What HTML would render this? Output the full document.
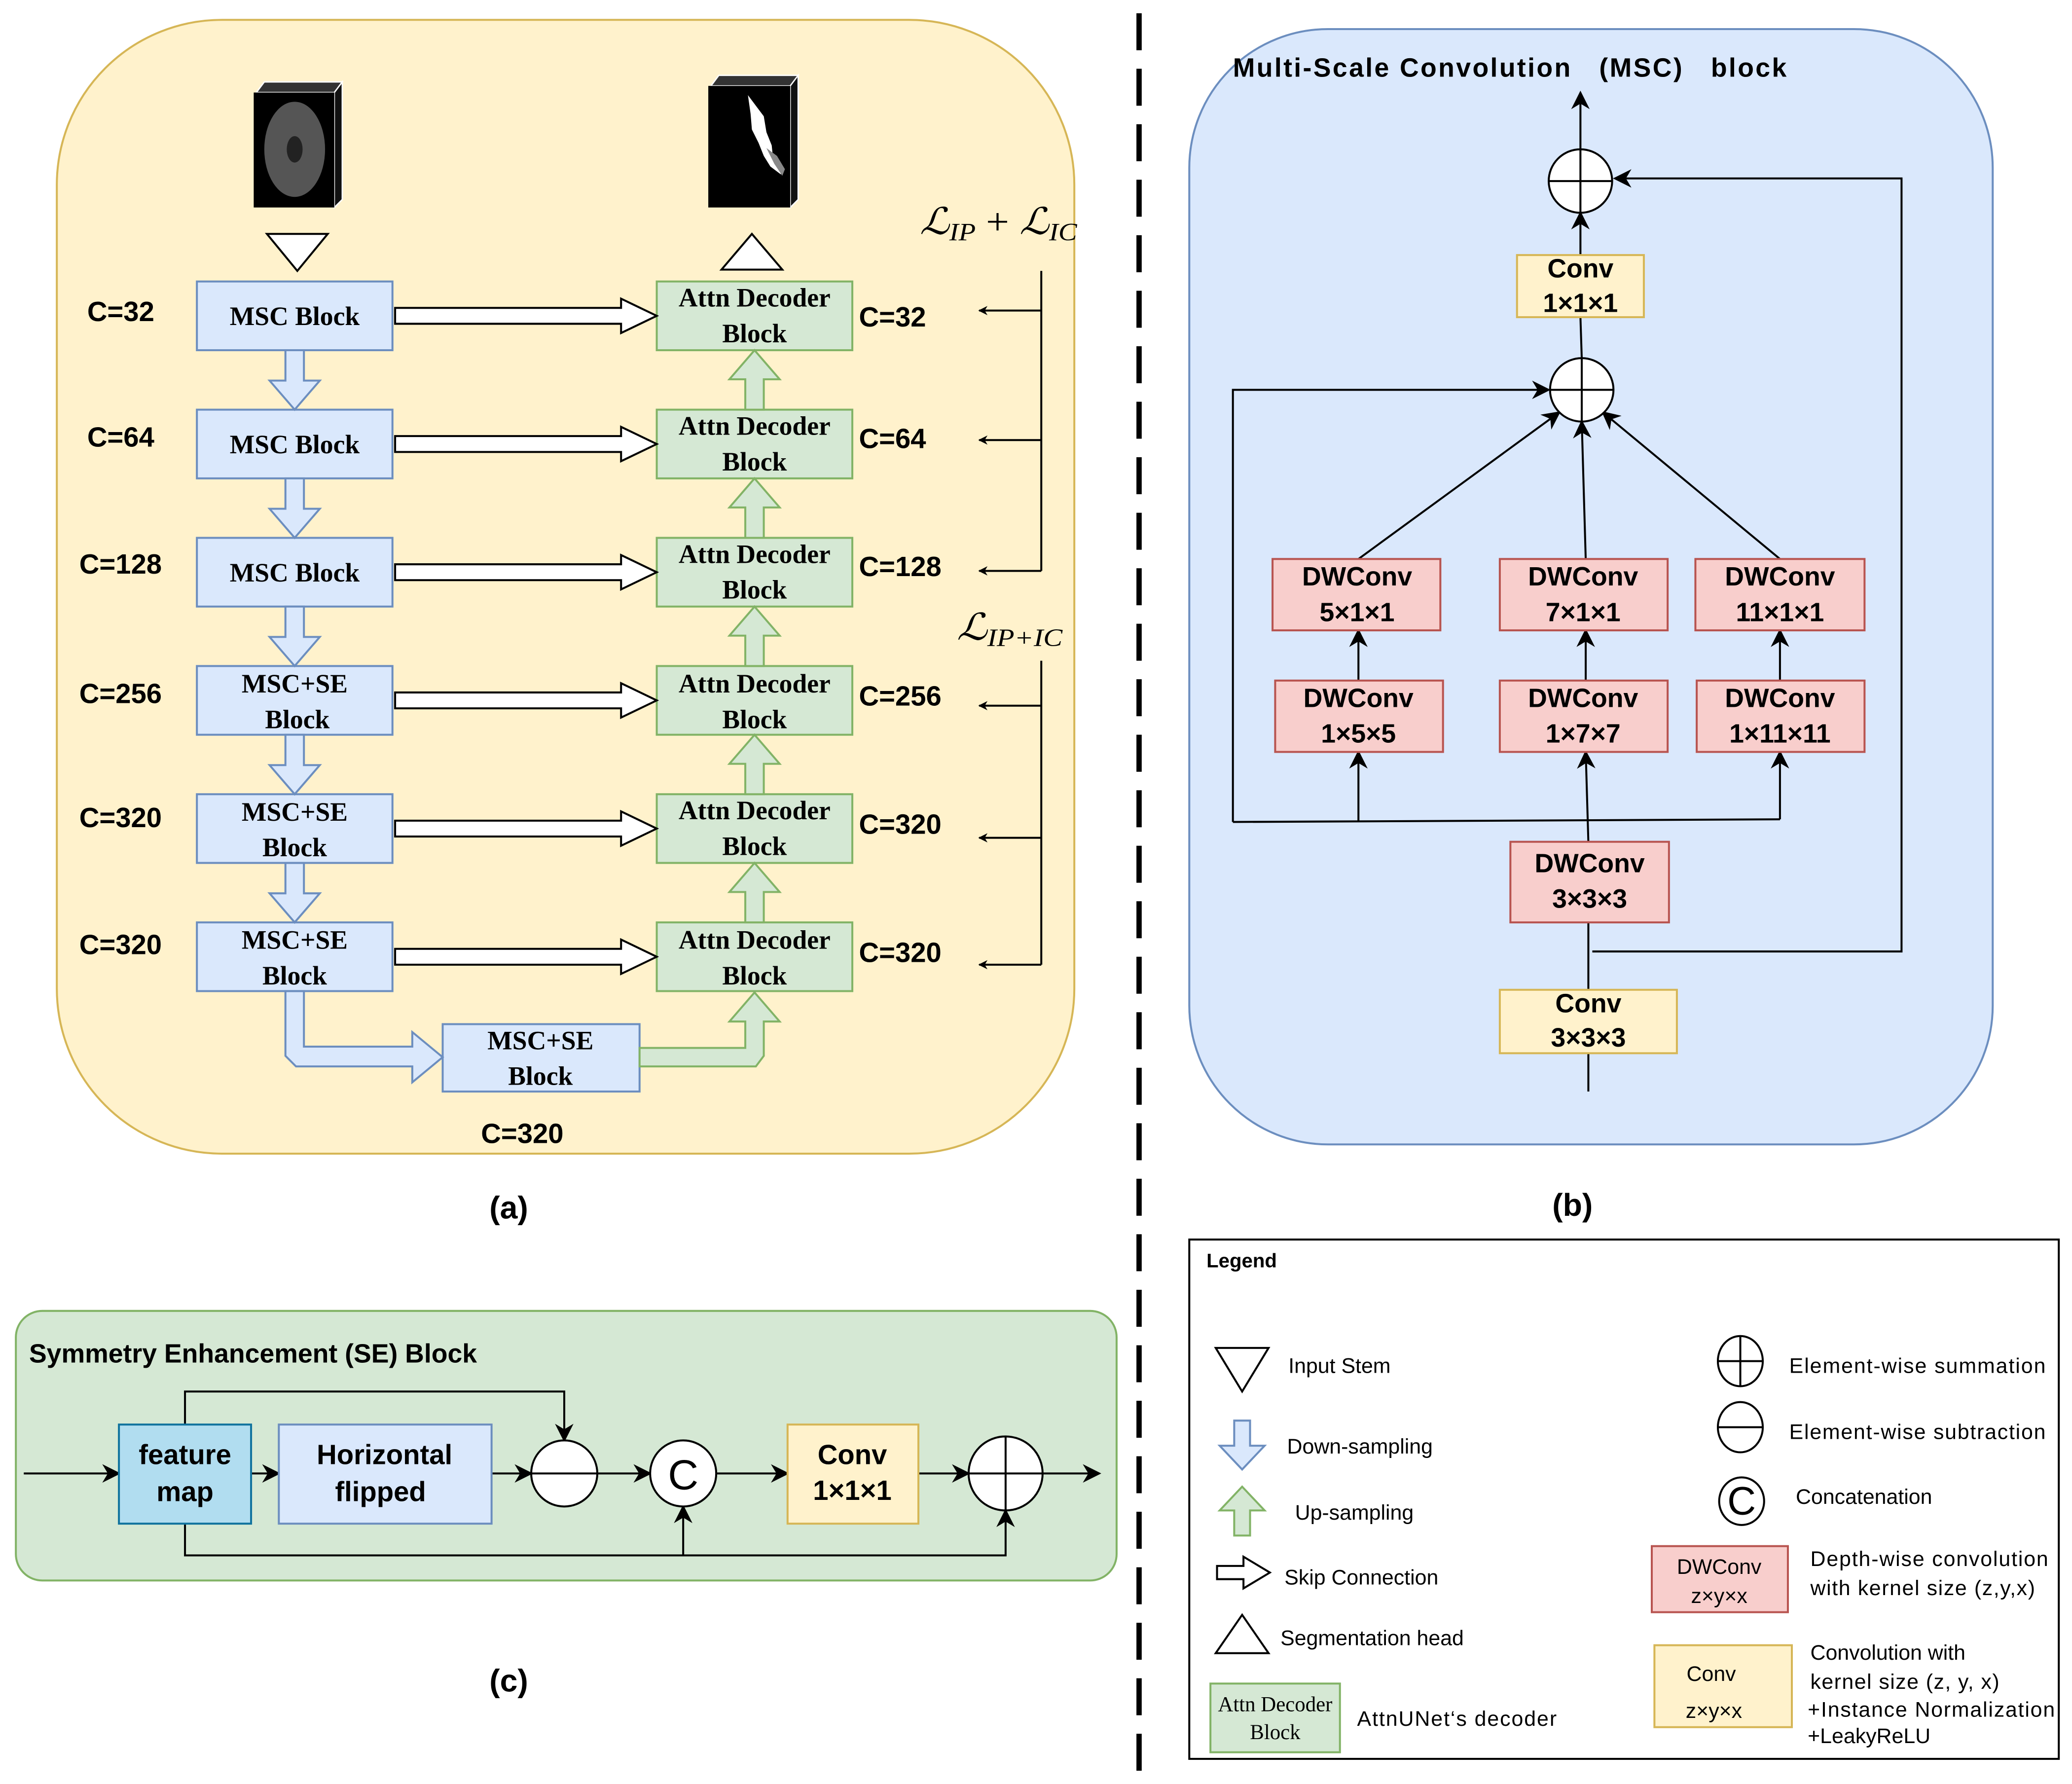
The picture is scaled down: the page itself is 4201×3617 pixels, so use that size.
<!DOCTYPE html>
<html><head><meta charset="utf-8"><style>html,body{margin:0;padding:0;background:#fff}svg{display:block}</style></head>
<body>
<svg width="4201" height="3617" viewBox="0 0 1568 1350" xmlns="http://www.w3.org/2000/svg" font-family="Liberation Sans, sans-serif">
<defs>
<marker id="ah" viewBox="0 0 10 10" refX="9" refY="5" markerWidth="7" markerHeight="7" orient="auto-start-reverse" markerUnits="userSpaceOnUse"><path d="M0,0 L10,5 L0,10 L3,5 z" fill="#000"/></marker>
<marker id="ab" viewBox="0 0 10 10" refX="9" refY="5" markerWidth="14" markerHeight="14" orient="auto" markerUnits="userSpaceOnUse"><path d="M0,0 L10,5 L0,10 L3,5 z" fill="#000"/></marker>
</defs>
<rect width="1568" height="1350" fill="#fff"/>

<!-- Panel (a) -->
<rect x="43" y="15" width="770" height="858" rx="125" fill="#fff2cc" stroke="#d6b656" stroke-width="1.5"/>
<polygon points="194,70 200,62 259,62 253,70" fill="#333" stroke="#fff" stroke-width="1"/>
<polygon points="253,70 259,62 259,151 253,157" fill="#111" stroke="#fff" stroke-width="1"/>
<rect x="192" y="70" width="61" height="87" fill="#000"/>
<ellipse cx="223" cy="113" rx="23" ry="36" fill="#555"/>
<ellipse cx="223" cy="113" rx="6" ry="10" fill="#222"/>
<polygon points="538,65 544,57 604,57 598,65" fill="#333" stroke="#fff" stroke-width="1"/>
<polygon points="598,65 604,57 604,151 598,157" fill="#111" stroke="#fff" stroke-width="1"/>
<rect x="536" y="65" width="62" height="92" fill="#000"/>
<path d="M566,72 L572,80 L578,88 L580,100 L584,110 L585,120 L590,128 L591,132 L583,126 L578,118 L574,108 L569,98 L568,86 Z" fill="#fff"/>
<path d="M580,112 L588,118 L594,128 L592,133 L586,124 Z" fill="#888"/>
<polygon points="202,177 248,177 225,205" fill="#fff" stroke="#000" stroke-width="1.5"/>
<polygon points="546,204 592,204 569,177" fill="#fff" stroke="#000" stroke-width="1.5"/>

<g font-family="Liberation Serif, serif" font-weight="bold" font-size="20" text-anchor="middle">
<g fill="#dae8fc" stroke="#6c8ebf" stroke-width="1.5">
<rect x="149" y="213" width="148" height="52"/><rect x="149" y="310" width="148" height="52"/>
<rect x="149" y="407" width="148" height="52"/><rect x="149" y="504" width="148" height="52"/>
<rect x="149" y="601" width="148" height="52"/><rect x="149" y="698" width="148" height="52"/>
<rect x="335" y="775" width="149" height="51"/>
</g>
<text x="223" y="246">MSC Block</text><text x="223" y="343">MSC Block</text><text x="223" y="440">MSC Block</text>
<text x="223" y="524">MSC+SE</text><text x="225" y="551">Block</text>
<text x="223" y="621">MSC+SE</text><text x="223" y="648">Block</text>
<text x="223" y="718">MSC+SE</text><text x="223" y="745">Block</text>
<text x="409" y="794">MSC+SE</text><text x="409" y="821">Block</text>
<g fill="#d5e8d4" stroke="#82b366" stroke-width="1.5">
<rect x="497" y="213" width="148" height="52"/><rect x="497" y="310" width="148" height="52"/>
<rect x="497" y="407" width="148" height="52"/><rect x="497" y="504" width="148" height="52"/>
<rect x="497" y="601" width="148" height="52"/><rect x="497" y="698" width="148" height="52"/>
</g>
<text x="571" y="232">Attn Decoder</text><text x="571" y="259">Block</text>
<text x="571" y="329">Attn Decoder</text><text x="571" y="356">Block</text>
<text x="571" y="426">Attn Decoder</text><text x="571" y="453">Block</text>
<text x="571" y="524">Attn Decoder</text><text x="571" y="551">Block</text>
<text x="571" y="620">Attn Decoder</text><text x="571" y="647">Block</text>
<text x="571" y="718">Attn Decoder</text><text x="571" y="745">Block</text>
</g>
<g fill="#fff" stroke="#000" stroke-width="1.5">
<polygon points="299,233 470,233 470,226 497,239 470,252 470,245 299,245"/>
<polygon points="299,330 470,330 470,323 497,336 470,349 470,342 299,342"/>
<polygon points="299,427 470,427 470,420 497,433 470,446 470,439 299,439"/>
<polygon points="299,524 470,524 470,517 497,530 470,543 470,536 299,536"/>
<polygon points="299,621 470,621 470,614 497,627 470,640 470,633 299,633"/>
<polygon points="299,718 470,718 470,711 497,724 470,737 470,730 299,730"/>
</g>
<g fill="#dae8fc" stroke="#6c8ebf" stroke-width="1.5">
<polygon points="216,265 230,265 230,288 242,288 223,310 204,288 216,288"/>
<polygon points="216,362 230,362 230,385 242,385 223,407 204,385 216,385"/>
<polygon points="216,459 230,459 230,482 242,482 223,504 204,482 216,482"/>
<polygon points="216,556 230,556 230,579 242,579 223,601 204,579 216,579"/>
<polygon points="216,653 230,653 230,676 242,676 223,698 204,676 216,676"/>
<polygon points="216,750 230,750 230,792 312,792 312,781 335,800 312,819 312,807 224,807 216,799"/>
</g>
<g fill="#d5e8d4" stroke="#82b366" stroke-width="1.5">
<polygon points="564,310 578,310 578,287 590,287 571,265 552,287 564,287"/>
<polygon points="564,407 578,407 578,384 590,384 571,362 552,384 564,384"/>
<polygon points="564,504 578,504 578,481 590,481 571,459 552,481 564,481"/>
<polygon points="564,601 578,601 578,578 590,578 571,556 552,578 564,578"/>
<polygon points="564,698 578,698 578,675 590,675 571,653 552,675 564,675"/>
<polygon points="484,793 564,793 564,773 552,773 571,751 590,773 578,773 578,799 572,807 484,807"/>
</g>
<g font-weight="bold" font-size="21">
<text x="66" y="243">C=32</text><text x="66" y="338">C=64</text><text x="60" y="434">C=128</text>
<text x="60" y="532">C=256</text><text x="60" y="626">C=320</text><text x="60" y="722">C=320</text>
<text x="650" y="247">C=32</text><text x="650" y="339">C=64</text><text x="650" y="436">C=128</text>
<text x="650" y="534">C=256</text><text x="650" y="631">C=320</text><text x="650" y="728">C=320</text>
<text x="364" y="865">C=320</text>
</g>
<g stroke="#000" stroke-width="1.5" fill="none">
<line x1="788" y1="205" x2="788" y2="432"/>
<line x1="788" y1="235" x2="741" y2="235" marker-end="url(#ah)"/>
<line x1="788" y1="333" x2="741" y2="333" marker-end="url(#ah)"/>
<line x1="788" y1="432" x2="741" y2="432" marker-end="url(#ah)"/>
<line x1="788" y1="500" x2="788" y2="730"/>
<line x1="788" y1="534" x2="741" y2="534" marker-end="url(#ah)"/>
<line x1="788" y1="634" x2="741" y2="634" marker-end="url(#ah)"/>
<line x1="788" y1="730" x2="741" y2="730" marker-end="url(#ah)"/>
</g>
<g font-family="Liberation Serif, serif" font-style="italic">
<text x="696" y="177" font-size="28" textLength="119" lengthAdjust="spacingAndGlyphs">ℒ<tspan font-size="19" dy="5">IP</tspan><tspan dy="-5" font-style="normal"> + </tspan>ℒ<tspan font-size="19" dy="5">IC</tspan></text>
<text x="724" y="484" font-size="28" textLength="80" lengthAdjust="spacingAndGlyphs">ℒ<tspan font-size="19" dy="5">IP+IC</tspan></text>
</g>
<text x="385" y="922" font-weight="bold" font-size="24" text-anchor="middle">(a)</text>

<line x1="862" y1="10" x2="862" y2="1342" stroke="#000" stroke-width="4" stroke-dasharray="28,14"/>

<!-- Panel (b) -->
<rect x="900" y="22" width="608" height="844" rx="105" fill="#dae8fc" stroke="#6c8ebf" stroke-width="1.5"/>
<text x="933" y="58" font-weight="bold" font-size="20" textLength="419" lengthAdjust="spacing" xml:space="preserve">Multi-Scale Convolution   (MSC)   block</text>
<g stroke="#000" stroke-width="1.5" fill="none">
<line x1="1202" y1="826" x2="1202" y2="698"/>
<polyline points="1205,720 1439,720 1439,135 1222,135" marker-end="url(#ab)"/>
<line x1="1202" y1="637" x2="1200" y2="569" marker-end="url(#ab)"/>
<polyline points="933,622 1347,620"/>
<polyline points="933,622 933,295 1172,295" marker-end="url(#ab)"/>
<line x1="1028" y1="622" x2="1028" y2="569" marker-end="url(#ab)"/>
<line x1="1347" y1="620" x2="1347" y2="569" marker-end="url(#ab)"/>
<line x1="1028" y1="515" x2="1028" y2="477" marker-end="url(#ab)"/>
<line x1="1200" y1="515" x2="1200" y2="477" marker-end="url(#ab)"/>
<line x1="1347" y1="515" x2="1347" y2="477" marker-end="url(#ab)"/>
<line x1="1028" y1="423" x2="1180" y2="312" marker-end="url(#ab)"/>
<line x1="1200" y1="423" x2="1197" y2="319" marker-end="url(#ab)"/>
<line x1="1347" y1="423" x2="1213" y2="312" marker-end="url(#ab)"/>
<line x1="1197" y1="271" x2="1196" y2="240"/>
<line x1="1196" y1="193" x2="1196" y2="161" marker-end="url(#ab)"/>
<line x1="1196" y1="113" x2="1196" y2="70" marker-end="url(#ab)"/>
</g>
<g stroke="#000" stroke-width="1.5" fill="#fff">
<ellipse cx="1196" cy="137" rx="24" ry="24"/>
<ellipse cx="1197" cy="295" rx="24" ry="24"/>
</g>
<g stroke="#000" stroke-width="1.5">
<line x1="1172" y1="137" x2="1220" y2="137"/><line x1="1196" y1="113" x2="1196" y2="161"/>
<line x1="1173" y1="295" x2="1221" y2="295"/><line x1="1197" y1="271" x2="1197" y2="319"/>
</g>
<g fill="#fff2cc" stroke="#d6b656" stroke-width="1.5">
<rect x="1148" y="193" width="96" height="47"/>
<rect x="1135" y="749" width="134" height="48"/>
</g>
<g fill="#f8cecc" stroke="#b85450" stroke-width="1.5">
<rect x="963" y="423" width="127" height="54"/><rect x="1135" y="423" width="127" height="54"/><rect x="1283" y="423" width="128" height="54"/>
<rect x="965" y="515" width="127" height="54"/><rect x="1135" y="515" width="127" height="54"/><rect x="1284" y="515" width="127" height="54"/>
<rect x="1143" y="637" width="120" height="61"/>
</g>
<g font-weight="bold" font-size="20" text-anchor="middle">
<text x="1196" y="210">Conv</text><text x="1196" y="236">1×1×1</text>
<text x="1027" y="443">DWConv</text><text x="1027" y="470">5×1×1</text>
<text x="1198" y="443">DWConv</text><text x="1198" y="470">7×1×1</text>
<text x="1347" y="443">DWConv</text><text x="1347" y="470">11×1×1</text>
<text x="1028" y="535">DWConv</text><text x="1028" y="562">1×5×5</text>
<text x="1198" y="535">DWConv</text><text x="1198" y="562">1×7×7</text>
<text x="1347" y="535">DWConv</text><text x="1347" y="562">1×11×11</text>
<text x="1203" y="660">DWConv</text><text x="1203" y="687">3×3×3</text>
<text x="1202" y="766">Conv</text><text x="1202" y="792">3×3×3</text>
</g>
<text x="1190" y="920" font-weight="bold" font-size="24" text-anchor="middle">(b)</text>

<!-- Panel (c) -->
<rect x="12" y="992" width="833" height="204" rx="20" fill="#d5e8d4" stroke="#82b366" stroke-width="1.5"/>
<text x="22" y="1031" font-weight="bold" font-size="20">Symmetry Enhancement (SE) Block</text>
<g stroke="#000" stroke-width="1.5" fill="none">
<line x1="18" y1="1115" x2="90" y2="1115" marker-end="url(#ab)"/>
<line x1="190" y1="1115" x2="211" y2="1115" marker-end="url(#ab)"/>
<line x1="372" y1="1115" x2="402" y2="1115" marker-end="url(#ab)"/>
<polyline points="140,1078 140,1053 427,1053 427,1090" marker-end="url(#ab)"/>
<line x1="452" y1="1115" x2="492" y2="1115" marker-end="url(#ab)"/>
<line x1="542" y1="1115" x2="596" y2="1115" marker-end="url(#ab)"/>
<line x1="695" y1="1115" x2="733" y2="1115" marker-end="url(#ab)"/>
<line x1="789" y1="1115" x2="832" y2="1115" marker-end="url(#ab)"/>
<polyline points="140,1153 140,1177 761,1177 761,1143" marker-end="url(#ab)"/>
<line x1="517" y1="1177" x2="517" y2="1140" marker-end="url(#ab)"/>
</g>
<rect x="90" y="1078" width="100" height="75" fill="#b1ddf0" stroke="#10739e" stroke-width="1.5"/>
<rect x="211" y="1078" width="161" height="75" fill="#dae8fc" stroke="#6c8ebf" stroke-width="1.5"/>
<rect x="596" y="1078" width="99" height="75" fill="#fff2cc" stroke="#d6b656" stroke-width="1.5"/>
<g stroke="#000" stroke-width="1.5" fill="#fff">
<circle cx="427" cy="1115" r="25"/><circle cx="517" cy="1115" r="25"/><circle cx="761" cy="1115" r="28"/>
</g>
<g stroke="#000" stroke-width="1.5">
<line x1="402" y1="1115" x2="452" y2="1115"/>
<line x1="733" y1="1115" x2="789" y2="1115"/><line x1="761" y1="1087" x2="761" y2="1143"/>
</g>
<text x="517" y="1127" font-size="32" text-anchor="middle">C</text>
<g font-weight="bold" font-size="21" text-anchor="middle">
<text x="140" y="1108">feature</text><text x="140" y="1136">map</text>
<text x="291" y="1108">Horizontal</text><text x="288" y="1136">flipped</text>
<text x="645" y="1108">Conv</text><text x="645" y="1135">1×1×1</text>
</g>
<text x="385" y="1280" font-weight="bold" font-size="24" text-anchor="middle">(c)</text>

<!-- Legend -->
<rect x="900" y="938" width="658" height="393" fill="#fff" stroke="#000" stroke-width="1.5"/>
<text x="913" y="959" font-weight="bold" font-size="15">Legend</text>
<g font-size="16">
<polygon points="920,1020 960,1020 940,1053" fill="#fff" stroke="#000" stroke-width="1.5"/>
<text x="975" y="1039">Input Stem</text>
<polygon points="934,1075 946,1075 946,1094 957,1094 940,1112 923,1094 934,1094" fill="#dae8fc" stroke="#6c8ebf" stroke-width="1.5"/>
<text x="974" y="1100">Down-sampling</text>
<polygon points="934,1162 946,1162 946,1143 957,1143 940,1125 923,1143 934,1143" fill="#d5e8d4" stroke="#82b366" stroke-width="1.5"/>
<text x="980" y="1150">Up-sampling</text>
<polygon points="921,1185 941,1185 941,1178 961,1190 941,1202 941,1195 921,1195" fill="#fff" stroke="#000" stroke-width="1.5"/>
<text x="972" y="1199">Skip Connection</text>
<polygon points="920,1251 960,1251 940,1222" fill="#fff" stroke="#000" stroke-width="1.5"/>
<text x="969" y="1245">Segmentation head</text>
<rect x="916" y="1274" width="98" height="52" fill="#d5e8d4" stroke="#82b366" stroke-width="1.5"/>
<text x="965" y="1295" font-family="Liberation Serif, serif" font-size="16" text-anchor="middle">Attn Decoder</text>
<text x="965" y="1316" font-family="Liberation Serif, serif" font-size="16" text-anchor="middle">Block</text>
<text x="1027" y="1306" textLength="151">AttnUNet‘s decoder</text>
<g stroke="#000" stroke-width="1.5" fill="#fff">
<ellipse cx="1317" cy="1030" rx="17" ry="19"/><ellipse cx="1317" cy="1080" rx="17" ry="19"/>
<ellipse cx="1318" cy="1136" rx="17" ry="18"/>
</g>
<g stroke="#000" stroke-width="1.5">
<line x1="1300" y1="1030" x2="1334" y2="1030"/><line x1="1317" y1="1011" x2="1317" y2="1049"/>
<line x1="1300" y1="1080" x2="1334" y2="1080"/>
</g>
<text x="1318" y="1146" font-size="30" text-anchor="middle">C</text>
<text x="1354" y="1039" textLength="194">Element-wise summation</text>
<text x="1354" y="1089" textLength="194">Element-wise subtraction</text>
<text x="1359" y="1138">Concatenation</text>
<rect x="1250" y="1170" width="103" height="50" fill="#f8cecc" stroke="#b85450" stroke-width="1.5"/>
<text x="1301" y="1191" text-anchor="middle">DWConv</text><text x="1301" y="1213" text-anchor="middle">z×y×x</text>
<text x="1370" y="1185" textLength="180">Depth-wise convolution</text><text x="1370" y="1207" textLength="170">with kernel size (z,y,x)</text>
<rect x="1252" y="1245" width="104" height="62" fill="#fff2cc" stroke="#d6b656" stroke-width="1.5"/>
<text x="1295" y="1272" text-anchor="middle">Conv</text><text x="1297" y="1300" text-anchor="middle">z×y×x</text>
<text x="1370" y="1256">Convolution with</text><text x="1370" y="1278" textLength="143">kernel size (z, y, x)</text>
<text x="1368" y="1299" textLength="187">+Instance Normalization</text><text x="1368" y="1319">+LeakyReLU</text>
</g>
</svg>
</body></html>
